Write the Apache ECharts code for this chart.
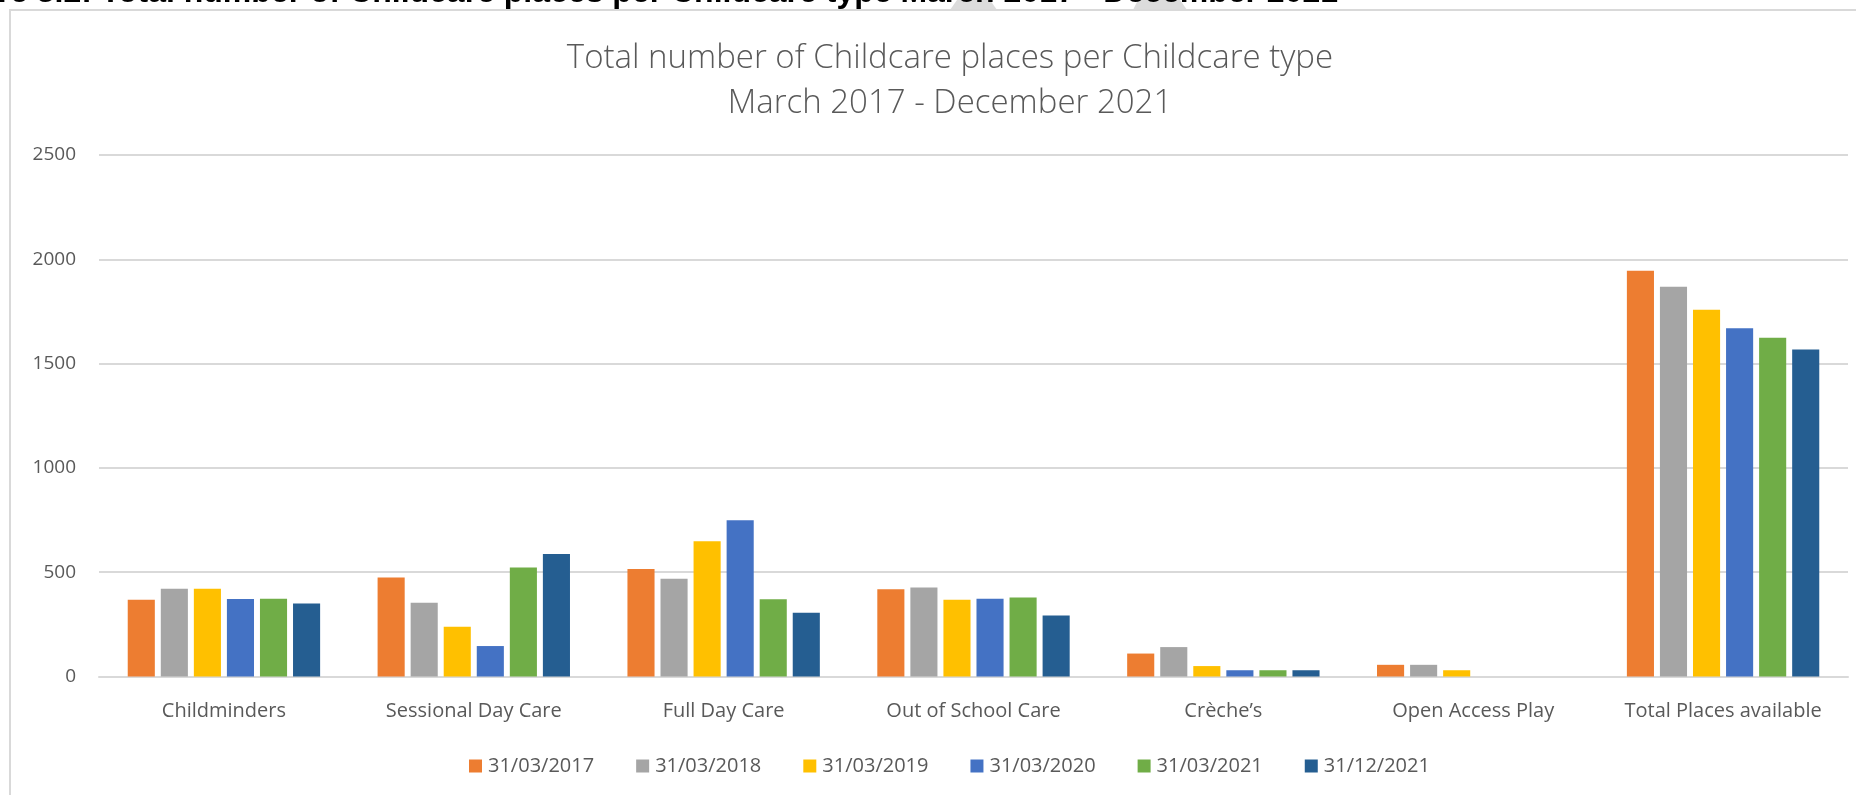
<!DOCTYPE html>
<html>
<head>
<meta charset="utf-8">
<script src="https://cdn.jsdelivr.net/npm/echarts@6/dist/echarts.min.js"></script>
<style>
html,body{margin:0;padding:0;background:#fff;}
#chart{width:1856px;height:795px;}
</style>
</head>
<body>
<div id="chart"></div>
<script>
const categories = ['Childminders', 'Sessional Day Care', 'Full Day Care', 'Out of School Care', 'Crèche’s', 'Open Access Play', 'Total Places available'];
const seriesNames = ['31/03/2017', '31/03/2018', '31/03/2019', '31/03/2020', '31/03/2021', '31/12/2021'];
const v2017 = [368, 474, 515, 418, 110, 56, 1945];
const v2018 = [421, 354, 469, 427, 141, 56, 1868];
const v2019 = [421, 238, 648, 368, 50, 30, 1758];
const v2020 = [371, 146, 749, 373, 30, 0, 1669];
const v2021mar = [373, 522, 370, 379, 30, 0, 1624];
const v2021dec = [350, 587, 306, 293, 30, 0, 1568];
const colors = ['#ED7D31', '#A5A5A5', '#FFC000', '#4472C4', '#70AD47', '#255E91'];
const yTicks = { min: 0, max: 2500, interval: 500 };
const headingText = 'Figure 3.2: Total number of Childcare places per Childcare type March 2017 - December 2021';
const titleLines = ['Total number of Childcare places per Childcare type', 'March 2017 - December 2021'];

const allValues = [v2017, v2018, v2019, v2020, v2021mar, v2021dec];
const FONT = '"Open Sans", "Noto Sans", sans-serif';
const TXT = '#595959';

const chart = echarts.init(document.getElementById('chart'), null, { renderer: 'canvas' });
chart.setOption({
  animation: false,
  backgroundColor: '#fff',
  color: colors,
  textStyle: { fontFamily: FONT },
  title: {
    text: titleLines.join('\n'),
    left: 945,
    textAlign: 'center',
    top: 31,
    textStyle: { fontFamily: FONT, fontSize: 33, fontWeight: 300, color: TXT, lineHeight: 45 }
  },
  graphic: [
    {
      type: 'rect', z: -1, silent: true,
      shape: { x: 10, y: 10, width: 1900, height: 900 },
      style: { fill: 'none', stroke: '#d9d9d9', lineWidth: 2 }
    },
    {
      type: 'polygon', z: -2, silent: true,
      shape: { points: [[957, 0], [990, 0], [997, 10], [950, 10]] },
      style: { fill: '#dcdcdc' }
    },
    {
      type: 'polygon', z: -2, silent: true,
      shape: { points: [[1138, 0], [1180, 0], [1187, 10], [1133, 10]] },
      style: { fill: '#dcdcdc' }
    },
    {
      type: 'text', silent: true,
      x: 1338, y: -7,
      style: {
        text: headingText, align: 'right', verticalAlign: 'middle',
        font: 'bold 32px "Liberation Sans", Arial, sans-serif', fill: '#000'
      }
    }
  ],
  legend: {
    data: seriesNames,
    left: 464,
    top: 751,
    itemWidth: 13,
    itemHeight: 13,
    itemGap: 42,
    icon: 'rect',
    textStyle: { fontFamily: FONT, fontSize: 20, color: TXT, padding: [0, 0, 0, 1] }
  },
  grid: { left: 99, right: 8, top: 155, bottom: 118.5, containLabel: false },
  xAxis: {
    type: 'category',
    data: categories,
    axisLine: { lineStyle: { color: '#d9d9d9', width: 2 } },
    axisTick: { show: false },
    axisLabel: { fontFamily: FONT, fontSize: 20, color: TXT, margin: 25, interval: 0 }
  },
  yAxis: {
    type: 'value',
    min: yTicks.min, max: yTicks.max, interval: yTicks.interval,
    axisLine: { show: false },
    axisTick: { show: false },
    splitLine: { lineStyle: { color: '#d9d9d9', width: 2 } },
    axisLabel: { fontFamily: FONT, fontSize: 19, color: TXT, margin: 23, formatter: (v) => String(v) }
  },
  series: seriesNames.map((name, i) => ({
    name: name,
    type: 'bar',
    data: allValues[i],
    barGap: '22%',
    barCategoryGap: '23%',
    itemStyle: { color: colors[i] }
  }))
});
</script>
</body>
</html>
